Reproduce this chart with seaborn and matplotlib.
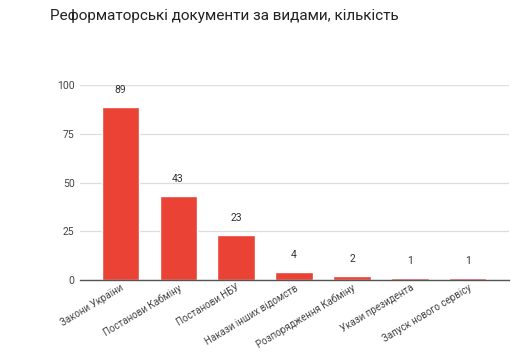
import matplotlib
matplotlib.use("Agg")
import matplotlib.pyplot as plt
import seaborn as sns
import pandas as pd

categories = [
    "Закони України",
    "Постанови Кабміну",
    "Постанови НБУ",
    "Накази інших відомств",
    "Розпорядження Кабміну",
    "Укази президента",
    "Запуск нового сервісу",
]
values = [89, 43, 23, 4, 2, 1, 1]
yticks = [0, 25, 50, 75, 100]

df = pd.DataFrame({"cat": categories, "val": values})

sns.set_style("white")
plt.rcParams["font.family"] = ["Roboto", "DejaVu Sans"]

fig = plt.figure(figsize=(5.27, 3.64), dpi=100)
ax = fig.add_axes([0.152, 0.231, 0.814, 0.535])

sns.barplot(data=df, x="cat", y="val", color="#ea4335", width=0.64,
            saturation=1, ax=ax, zorder=3)

ax.set_xlim(-0.69, 6.71)
ax.set_ylim(0, 100)
ax.set_yticks(yticks)
ax.yaxis.grid(True, color="#dddddd", linewidth=0.9, zorder=0)
for s in ["top", "right", "left"]:
    ax.spines[s].set_visible(False)
ax.spines["bottom"].set_color("#555555")
ax.spines["bottom"].set_linewidth(1)
ax.spines["bottom"].set_zorder(4)

ax.tick_params(axis="y", length=0, labelsize=7.5, labelcolor="#444444", pad=4)
ax.tick_params(axis="x", length=0, labelsize=7, labelcolor="#444444", pad=2)
plt.setp(ax.get_xticklabels(), rotation=31, ha="right", rotation_mode="anchor")
ax.set_xlabel("")
ax.set_ylabel("")

for i, v in enumerate(values):
    ax.text(i, v + 6, str(v), ha="center", va="bottom", fontsize=7.5,
            color="#333333", clip_on=False)

fig.text(0.095, 0.955, "Реформаторські документи за видами, кількість",
         fontsize=11, color="#222222", ha="left", va="center")

fig.savefig("out.png", dpi=100)
